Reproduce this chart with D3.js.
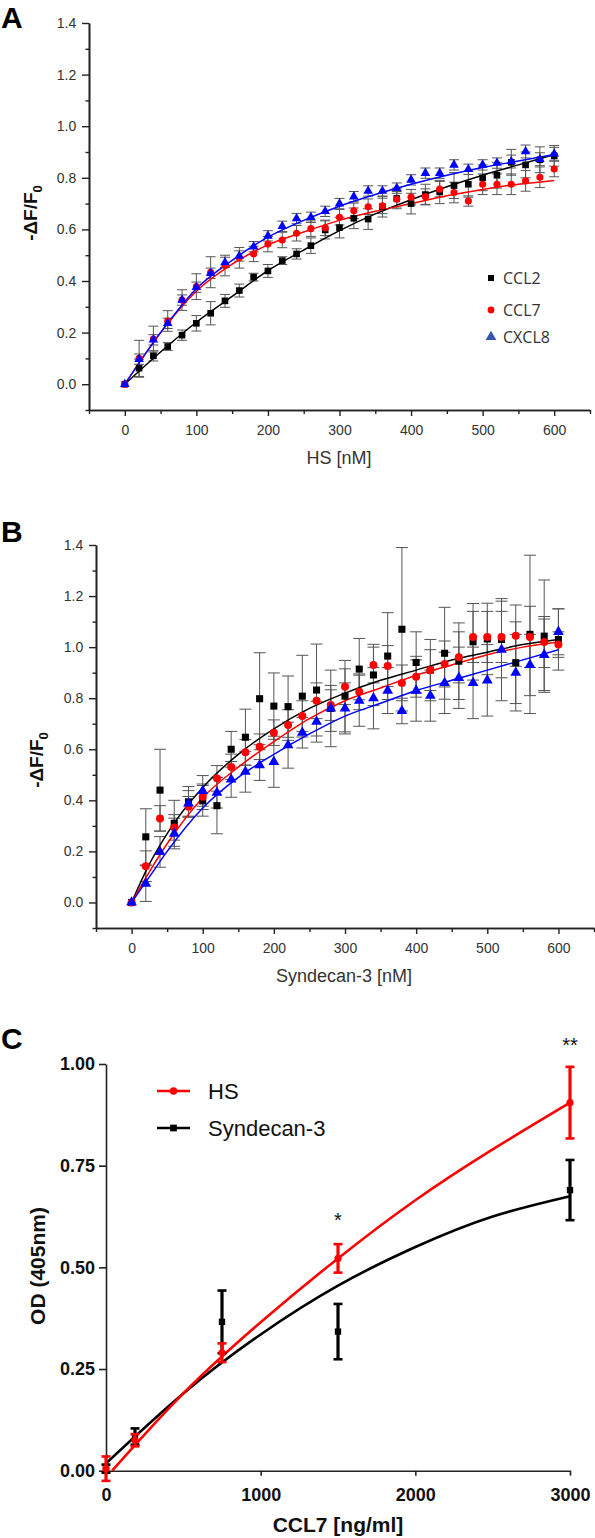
<!DOCTYPE html>
<html><head><meta charset="utf-8">
<script src="https://cdn.jsdelivr.net/npm/d3@7"></script>
<style>body{margin:0;background:#fff}</style>
</head><body>
<svg id="c" width="595" height="1538" xmlns="http://www.w3.org/2000/svg"></svg>
<script>
// ---------- Panel A data ----------
const xA = [0,20,40,60,80,100,120,140,160,180,200,220,240,260,280,300,320,340,360,380,400,420,440,460,480,500,520,540,560,580,600];
const aCCL2 = [0,0.062,0.11,0.146,0.19,0.236,0.275,0.323,0.363,0.415,0.439,0.479,0.505,0.537,0.598,0.607,0.643,0.64,0.688,0.72,0.70,0.735,0.745,0.77,0.775,0.80,0.81,0.86,0.85,0.87,0.885];
const aCCL2err = [0,0.035,0.02,0.015,0.02,0.03,0.045,0.025,0.025,0.015,0.025,0.015,0.02,0.03,0.035,0.04,0.04,0.04,0.04,0.04,0.04,0.04,0.045,0.05,0.05,0.05,0.05,0.05,0.05,0.05,0.04];
const aCCL7 = [0,0.1,0.175,0.245,0.326,0.378,0.434,0.46,0.49,0.505,0.543,0.559,0.585,0.603,0.606,0.647,0.672,0.688,0.691,0.717,0.725,0.727,0.756,0.743,0.71,0.775,0.775,0.775,0.788,0.802,0.834];
const aCCL7err = [0,0.07,0.05,0.04,0.04,0.05,0.06,0.04,0.04,0.03,0.03,0.03,0.03,0.03,0.03,0.03,0.03,0.03,0.03,0.03,0.03,0.03,0.03,0.04,0.02,0.04,0.04,0.04,0.04,0.04,0.03];
const aCXCL8 = [0,0.097,0.172,0.236,0.326,0.376,0.43,0.472,0.497,0.533,0.575,0.612,0.642,0.647,0.67,0.70,0.727,0.749,0.749,0.76,0.792,0.818,0.818,0.85,0.833,0.85,0.857,0.863,0.902,0.872,0.893];
const aCXCL8err = [0,0.02,0.02,0.02,0.02,0.02,0.02,0.02,0.02,0.02,0.02,0.02,0.02,0.02,0.02,0.02,0.02,0.02,0.02,0.02,0.02,0.02,0.02,0.02,0.02,0.02,0.02,0.025,0.025,0.025,0.025];
const fitXA = [0,50,100,150,200,250,300,350,400,450,500,550,600];
const aFitCCL2 = [0,0.125,0.24,0.34,0.44,0.52,0.595,0.66,0.715,0.765,0.81,0.85,0.89];
const aFitCCL7 = [0,0.2,0.36,0.465,0.54,0.59,0.635,0.67,0.70,0.73,0.755,0.775,0.79];
const aFitCXCL8 = [0,0.2,0.37,0.48,0.57,0.635,0.69,0.735,0.775,0.81,0.84,0.865,0.89];

// ---------- Panel B data ----------
const xB = [0,20,40,60,80,100,120,140,160,180,200,220,240,260,280,300,320,340,360,380,400,420,440,460,480,500,520,540,560,580,600];
const bCCL2 = [0,0.257,0.44,0.31,0.394,0.398,0.379,0.6,0.647,0.798,0.769,0.767,0.808,0.832,0.76,0.808,0.914,0.891,0.965,1.07,0.94,0.91,0.976,0.945,1.021,1.032,1.03,0.939,1.05,1.043,1.03];
const bCCL2err = [0,0.11,0.16,0.09,0.06,0.06,0.11,0.07,0.11,0.18,0.13,0.12,0.16,0.18,0.15,0.14,0.12,0.12,0.17,0.32,0.12,0.12,0.18,0.15,0.15,0.14,0.15,0.16,0.31,0.22,0.12];
const bCCL7 = [0,0.142,0.329,0.294,0.375,0.414,0.486,0.531,0.588,0.61,0.665,0.695,0.73,0.79,0.773,0.845,0.825,0.93,0.926,0.86,0.884,0.91,0.934,0.96,1.04,1.04,1.04,1.045,1.04,1.02,1.01];
const bCCL7err = [0,0.06,0.05,0.05,0.04,0.05,0.05,0.05,0.05,0.05,0.05,0.06,0.06,0.07,0.06,0.07,0.07,0.07,0.08,0.07,0.08,0.08,0.09,0.1,0.1,0.1,0.1,0.12,0.12,0.1,0.05];
const bCXCL8 = [0,0.074,0.198,0.27,0.388,0.437,0.43,0.482,0.512,0.538,0.551,0.616,0.665,0.708,0.76,0.76,0.79,0.8,0.83,0.75,0.83,0.81,0.86,0.88,0.86,0.87,0.99,0.9,0.93,0.97,1.06];
const bCXCL8err = [0,0.07,0.06,0.06,0.05,0.06,0.06,0.07,0.08,0.06,0.1,0.09,0.06,0.08,0.09,0.1,0.1,0.12,0.09,0.05,0.12,0.1,0.12,0.12,0.14,0.14,0.2,0.15,0.12,0.14,0.09];
const fitXB = [0,25,50,100,150,200,250,300,350,400,450,500,550,600];
const bFitCCL2 = [0,0.15,0.27,0.45,0.58,0.68,0.76,0.82,0.87,0.91,0.95,0.98,1.01,1.03];
const bFitCCL7 = [0,0.12,0.23,0.41,0.53,0.63,0.72,0.79,0.84,0.89,0.93,0.97,1.0,1.02];
const bFitCXCL8 = [0,0.1,0.2,0.37,0.49,0.58,0.66,0.73,0.78,0.83,0.87,0.91,0.95,0.99];

// ---------- Panel C data ----------
const xC = [0,187.5,750,1500,3000];
const cHS = [0.005,0.075,0.29,0.522,0.905];
const cHSerr = [0.03,0.015,0.023,0.035,0.088];
const cSyn = [0.005,0.084,0.366,0.342,0.69];
const cSynErr = [0.01,0.02,0.077,0.068,0.074];
const cFitHSx = [40,500,1000,1500,2000,2500,3000];
const cFitHS = [0,0.19,0.365,0.522,0.665,0.79,0.905];
const cFitSynX = [0,500,1000,1500,2000,2500,3000];
const cFitSyn = [0.018,0.19,0.335,0.455,0.55,0.625,0.675];

const ticksA_xMajor = [0,100,200,300,400,500,600];
const ticksA_xMinor = [-50,50,150,250,350,450,550,650];
const ticksA_yMajor = [0,0.2,0.4,0.6,0.8,1.0,1.2,1.4];
const ticksA_yMinor = [-0.1,0.1,0.3,0.5,0.7,0.9,1.1,1.3];
const ticksC_x = [0,1000,2000,3000];
const ticksC_y = [0,0.25,0.5,0.75,1.0];

const svg = d3.select("#c");
svg.append("rect").attr("width",595).attr("height",1538).attr("fill","#fff");

const RED = "#ff0000", BLUE = "#0000ff", BLACK = "#000000";
const TICKFONT = "'Liberation Sans', Arial, sans-serif";

function originPanel(cfg){
  const g = svg.append("g");
  const x = d3.scaleLinear().domain([-50,650]).range([cfg.xl, cfg.xr]);
  const y = d3.scaleLinear().domain([-0.1,1.4]).range([cfg.yb, cfg.yt]);
  const axB = g.append("g").attr("transform",`translate(0,${cfg.yb})`)
    .call(d3.axisBottom(x).tickValues(ticksA_xMajor).tickSize(6).tickSizeOuter(0).tickFormat(d3.format("d")));
  const axBm = g.append("g").attr("transform",`translate(0,${cfg.yb})`)
    .call(d3.axisBottom(x).tickValues(ticksA_xMinor).tickSize(4).tickSizeOuter(0).tickFormat(""));
  const axL = g.append("g").attr("transform",`translate(${cfg.xl},0)`)
    .call(d3.axisLeft(y).tickValues(ticksA_yMajor).tickSize(7).tickSizeOuter(0).tickFormat(d3.format(".1f")));
  const axLm = g.append("g").attr("transform",`translate(${cfg.xl},0)`)
    .call(d3.axisLeft(y).tickValues(ticksA_yMinor).tickSize(3.5).tickSizeOuter(0).tickFormat(""));
  [axB,axBm,axL,axLm].forEach(a=>{
    a.select(".domain").attr("stroke","#222").attr("stroke-width",1.6);
    a.selectAll(".tick line").attr("stroke","#222").attr("stroke-width",1.4);
    a.selectAll(".tick text").attr("font-family",TICKFONT).attr("font-size",14).attr("fill","#333");
  });
  axB.selectAll(".tick text").attr("dy","1.15em");
  axL.selectAll(".tick text").attr("dx","-0.2em");
  g.append("text").attr("x",cfg.xTitleX).attr("y",cfg.xTitleY).attr("text-anchor","middle")
    .attr("font-family",TICKFONT).attr("font-size",18).attr("fill","#333").text(cfg.xTitle);
  const yt = g.append("text").attr("transform",`translate(${cfg.yTitleX},${cfg.yTitleY}) rotate(-90)`)
    .attr("text-anchor","middle").attr("font-family",TICKFONT).attr("font-weight","bold").attr("font-size",19).attr("fill","#111");
  yt.append("tspan").text("-ΔF/F");
  yt.append("tspan").attr("font-size",13).attr("dy",5).text("0");
  cfg.series.forEach(s=>{
    const eg = g.append("g");
    s.x.forEach((xv,i)=>{
      if(s.err[i] <= 0) return;
      const cx = x(xv), y1 = y(s.v[i]+s.err[i]), y2 = y(s.v[i]-s.err[i]);
      eg.append("line").attr("x1",cx).attr("x2",cx).attr("y1",y1).attr("y2",y2).attr("stroke","#555").attr("stroke-width",1);
      [y1,y2].forEach(yy=>eg.append("line").attr("x1",cx-cfg.cap).attr("x2",cx+cfg.cap).attr("y1",yy).attr("y2",yy).attr("stroke","#555").attr("stroke-width",1));
    });
  });
  cfg.series.forEach(s=>{
    const line = d3.line().x((d,i)=>x(s.fx[i])).y((d,i)=>y(s.fv[i])).curve(d3.curveMonotoneX);
    g.append("path").attr("d",line(s.fx)).attr("fill","none").attr("stroke",s.color).attr("stroke-width",1.5);
  });
  cfg.series.forEach(s=>{
    const sym = d3.symbol().type(s.shape).size(s.size);
    g.append("g").selectAll("path").data(s.x).join("path")
      .attr("transform",(d,i)=>`translate(${x(d)},${y(s.v[i])})`)
      .attr("d",sym()).attr("fill",s.color);
  });
  return {x,y,g};
}

// Panel A
originPanel({
  xl:89, xr:590, yb:410, yt:23, cap:5,
  xTitle:"HS [nM]", xTitleX:339, xTitleY:464, yTitleX:37, yTitleY:213,
  series:[
    {x:xA, v:aCCL2, err:aCCL2err, fx:fitXA, fv:aFitCCL2, color:BLACK, shape:d3.symbolSquare, size:44},
    {x:xA, v:aCCL7, err:aCCL7err, fx:fitXA, fv:aFitCCL7, color:RED, shape:d3.symbolCircle, size:40},
    {x:xA, v:aCXCL8, err:aCXCL8err, fx:fitXA, fv:aFitCXCL8, color:BLUE, shape:d3.symbolTriangle, size:40}
  ]
});
const legA = [{t:"CCL2",c:BLACK,s:d3.symbolSquare,sz:36,y:278},{t:"CCL7",c:RED,s:d3.symbolCircle,sz:36,y:310},{t:"CXCL8",c:"#3355aa",s:d3.symbolTriangle,sz:50,y:337}];
legA.forEach(l=>{
  svg.append("path").attr("transform",`translate(491,${l.y})`).attr("d",d3.symbol().type(l.s).size(l.sz)()).attr("fill",l.c);
  svg.append("text").attr("x",503).attr("y",l.y+6).attr("font-family","'Open Sans', sans-serif").attr("font-size",16).attr("fill","#333").text(l.t);
});

// Panel B
originPanel({
  xl:96, xr:594, yb:928, yt:545, cap:6,
  xTitle:"Syndecan-3 [nM]", xTitleX:344, xTitleY:982, yTitleX:43, yTitleY:760,
  series:[
    {x:xB, v:bCCL2, err:bCCL2err, fx:fitXB, fv:bFitCCL2, color:BLACK, shape:d3.symbolSquare, size:50},
    {x:xB, v:bCCL7, err:bCCL7err, fx:fitXB, fv:bFitCCL7, color:RED, shape:d3.symbolCircle, size:50},
    {x:xB, v:bCXCL8, err:bCXCL8err, fx:fitXB, fv:bFitCXCL8, color:BLUE, shape:d3.symbolTriangle, size:50}
  ]
});

// Panel labels
[["A",1,28],["B",1,542],["C",1,1049]].forEach(([t,x,y])=>{
  svg.append("text").attr("x",x).attr("y",y).attr("font-family",TICKFONT).attr("font-weight","bold").attr("font-size",30).attr("fill","#000").text(t);
});

// Panel C
(function(){
  const g = svg.append("g");
  const x = d3.scaleLinear().domain([0,3000]).range([106,570]);
  const y = d3.scaleLinear().domain([0,1]).range([1470.7,1064]);
  const axB = g.append("g").attr("transform","translate(0,1470.7)")
    .call(d3.axisBottom(x).tickValues(ticksC_x).tickSize(5).tickSizeOuter(0).tickFormat(d3.format("d")));
  const axL = g.append("g").attr("transform","translate(106,0)")
    .call(d3.axisLeft(y).tickValues(ticksC_y).tickSize(7).tickSizeOuter(0).tickFormat(d3.format(".2f")));
  [axB,axL].forEach(a=>{
    a.select(".domain").attr("stroke","#222").attr("stroke-width",1.6);
    a.selectAll(".tick line").attr("stroke","#222").attr("stroke-width",1.6);
    a.selectAll(".tick text").attr("font-family",TICKFONT).attr("font-weight","bold").attr("font-size",18).attr("fill","#111");
  });
  axB.selectAll(".tick text").attr("dy","1.25em");
  axL.selectAll(".tick text").attr("dx","-0.05em");
  g.append("text").attr("x",338).attr("y",1532).attr("text-anchor","middle").attr("font-family",TICKFONT)
    .attr("font-weight","bold").attr("font-size",21).attr("fill","#111").text("CCL7 [ng/ml]");
  g.append("text").attr("transform","translate(45,1266) rotate(-90)").attr("text-anchor","middle").attr("font-family",TICKFONT)
    .attr("font-weight","bold").attr("font-size",21).attr("fill","#111").text("OD (405nm)");
  const series = [
    {v:cSyn, e:cSynErr, fx:cFitSynX, fv:cFitSyn, c:BLACK, s:d3.symbolSquare, sz:40},
    {v:cHS, e:cHSerr, fx:cFitHSx, fv:cFitHS, c:RED, s:d3.symbolCircle, sz:40}
  ];
  series.forEach(s=>{
    const line = d3.line().x((d,i)=>x(s.fx[i])).y((d,i)=>y(s.fv[i])).curve(d3.curveNatural);
    g.append("path").attr("d",line(s.fx)).attr("fill","none").attr("stroke",s.c).attr("stroke-width",2.6);
  });
  series.forEach(s=>{
    xC.forEach((xv,i)=>{
      const cx = x(xv), y1 = y(s.v[i]+s.e[i]), y2 = y(s.v[i]-s.e[i]);
      g.append("line").attr("x1",cx).attr("x2",cx).attr("y1",y1).attr("y2",y2).attr("stroke",s.c).attr("stroke-width",3.2);
      [y1,y2].forEach(yy=>g.append("line").attr("x1",cx-4.5).attr("x2",cx+4.5).attr("y1",yy).attr("y2",yy).attr("stroke",s.c).attr("stroke-width",2.6));
      g.append("path").attr("transform",`translate(${cx},${y(s.v[i])})`).attr("d",d3.symbol().type(s.s).size(s.sz)()).attr("fill",s.c);
    });
  });
  g.append("text").attr("x",x(1500)).attr("y",1227).attr("text-anchor","middle").attr("font-family",TICKFONT).attr("font-size",20).attr("fill","#111").text("*");
  g.append("text").attr("x",x(3000)).attr("y",1052).attr("text-anchor","middle").attr("font-family",TICKFONT).attr("font-size",20).attr("fill","#111").text("**");
  [{t:"HS",c:RED,s:d3.symbolCircle,y:1091},{t:"Syndecan-3",c:BLACK,s:d3.symbolSquare,y:1128}].forEach(l=>{
    g.append("line").attr("x1",157).attr("x2",190).attr("y1",l.y).attr("y2",l.y).attr("stroke",l.c).attr("stroke-width",2.6);
    g.append("path").attr("transform",`translate(173.5,${l.y})`).attr("d",d3.symbol().type(l.s).size(45)()).attr("fill",l.c);
    g.append("text").attr("x",208).attr("y",l.y+8).attr("font-family",TICKFONT).attr("font-size",22).attr("fill","#111").text(l.t);
  });
})();
</script>
</body></html>
